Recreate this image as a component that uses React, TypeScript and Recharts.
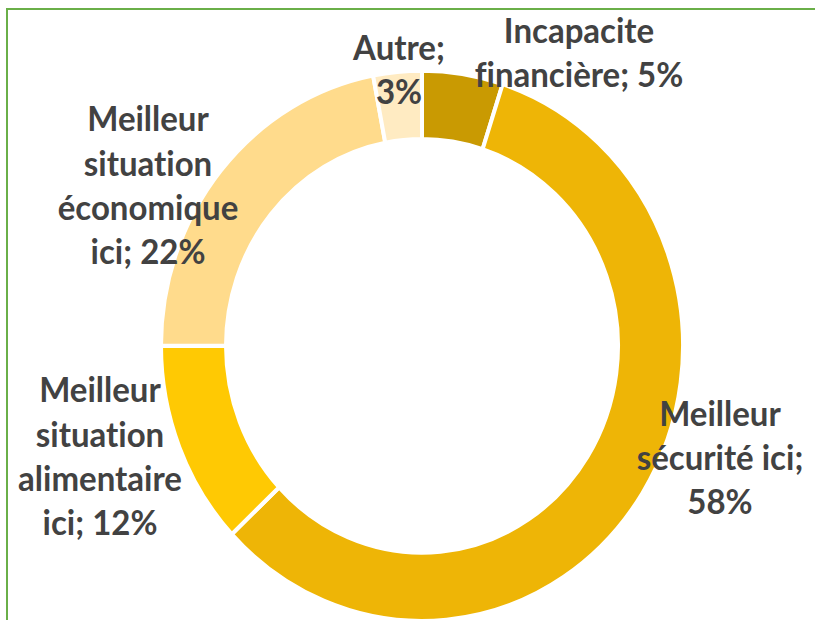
import { PieChart, Pie, Cell } from "recharts";

const categories = [
  "Incapacite financière",
  "Meilleur sécurité ici",
  "Meilleur situation alimentaire ici",
  "Meilleur situation économique ici",
  "Autre",
];
const shares = [5, 58, 12, 22, 3];
const labelLines = [
  ["Incapacite", "financière; 5%"],
  ["Meilleur", "sécurité ici;", "58%"],
  ["Meilleur", "situation", "alimentaire", "ici; 12%"],
  ["Meilleur", "situation", "économique", "ici; 22%"],
  ["Autre;", "3%"],
];
const colors = ["#C99A02", "#EEB506", "#FFC903", "#FFDB8C", "#FFEBC2"];

// label block centres, relative to the pie centre (Excel manual placement)
const labelOffsets = [
  { dx: 157, dy: -279 },
  { dx: 298, dy: 105 },
  { dx: -322, dy: 104 },
  { dx: -274, dy: -153 },
  { dx: -23, dy: -263 },
];

const data = categories.map((name, i) => ({ name, value: shares[i] }));

const W = 815;
const H = 588;
const STRETCH = 620 / H;
const LINE_H = 42;

function renderLabel(props: any) {
  const { cx, cy, index } = props;
  const lines = labelLines[index];
  const off = labelOffsets[index];
  const x = cx + off.dx;
  const top = cy + off.dy - ((lines.length - 1) * LINE_H) / 2;
  return (
    <text
      key={`lbl-${index}`}
      x={x}
      textAnchor="middle"
      fill="#424242"
      fontFamily="Lato, 'Open Sans', sans-serif"
      fontWeight={700}
      fontSize={33}
      style={{ fontVariantLigatures: "none", fontFeatureSettings: '"liga" 0, "dlig" 0' }}
    >
      {lines.map((l, j) => (
        <tspan key={j} x={x} y={top + j * LINE_H} dominantBaseline="central">
          {l}
        </tspan>
      ))}
    </text>
  );
}

export default function App() {
  return (
    <div
      style={{
        position: "absolute",
        left: 0,
        top: 0,
        width: W,
        height: 620,
        overflow: "hidden",
        background: "#ffffff",
      }}
    >
      <div
        style={{
          position: "absolute",
          left: 6,
          top: 8,
          width: 860,
          height: 660,
          border: "2px solid #6AAF48",
        }}
      />
      <div
        style={{
          position: "absolute",
          left: 0,
          top: 0,
          transform: `scaleY(${STRETCH})`,
          transformOrigin: "0 0",
        }}
      >
        <PieChart width={W} height={H} margin={{ top: 0, right: 0, bottom: 0, left: 0 }}>
          <Pie
            data={data}
            dataKey="value"
            nameKey="name"
            cx={422}
            cy={328}
            innerRadius={196}
            outerRadius={261}
            startAngle={90}
            endAngle={-270}
            stroke="#ffffff"
            strokeWidth={4}
            label={renderLabel}
            labelLine={false}
            isAnimationActive={false}
          >
            {data.map((d, i) => (
              <Cell key={d.name} fill={colors[i]} />
            ))}
          </Pie>
        </PieChart>
      </div>
    </div>
  );
}
